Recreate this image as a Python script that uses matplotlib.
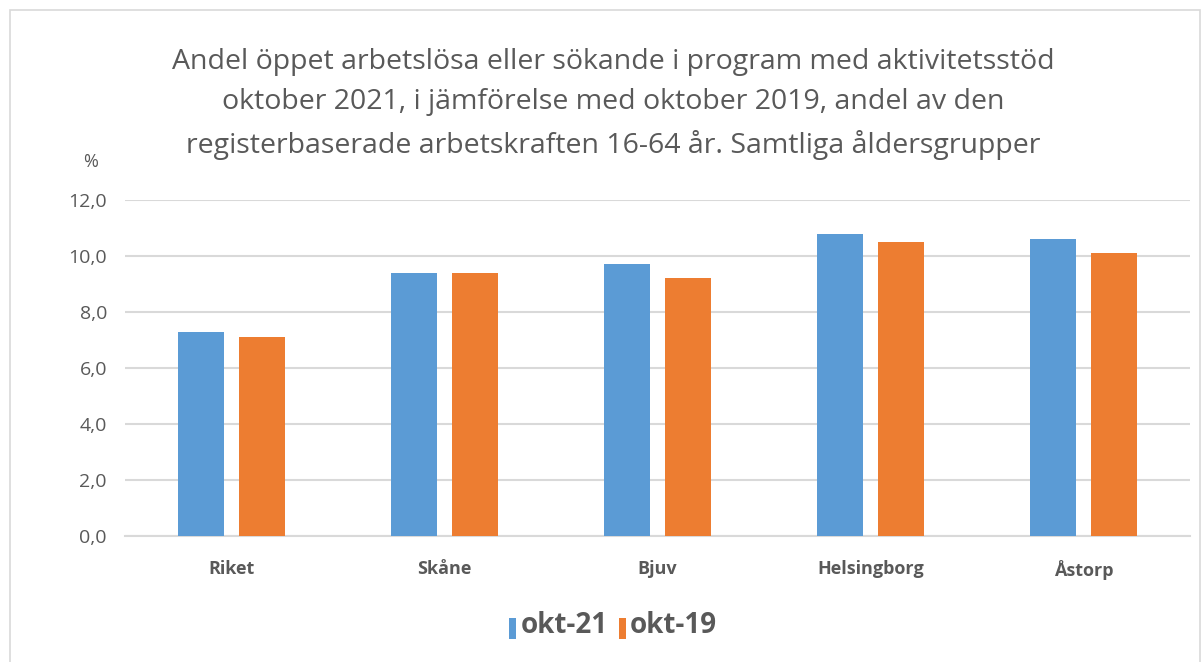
import matplotlib
matplotlib.use("Agg")
import matplotlib.pyplot as plt
from matplotlib.patches import Rectangle
import numpy as np

categories = ["Riket", "Skåne", "Bjuv", "Helsingborg", "Åstorp"]
okt21 = [7.3, 9.4, 9.7, 10.8, 10.6]
okt19 = [7.1, 9.4, 9.2, 10.5, 10.1]
series_names = ["okt-21", "okt-19"]
yticks = [0, 2, 4, 6, 8, 10, 12]
title = ("Andel öppet arbetslösa eller sökande i program med aktivitetsstöd\n"
         "oktober 2021, i jämförelse med oktober 2019, andel av den\n"
         "registerbaserade arbetskraften 16-64 år. Samtliga åldersgrupper")

plt.rcParams['font.family'] = ['Open Sans', 'DejaVu Sans']
gray = "#595959"

fig = plt.figure(figsize=(12.02, 6.62), dpi=100)
ax = fig.add_axes([0.104, 0.19, 0.886, 0.508])

x = np.arange(len(categories))
w = 0.22
off = 0.143
ax.bar(x - off, okt21, w, color="#5B9BD5", label=series_names[0], zorder=3)
ax.bar(x + off, okt19, w, color="#ED7D31", label=series_names[1], zorder=3)

ax.set_xlim(-0.5, len(categories) - 0.5)
ax.set_ylim(0, 12)
ax.set_yticks(yticks)
ax.set_yticklabels([f"{v:.1f}".replace(".", ",") for v in yticks], color=gray, fontsize=14)
ax.set_xticks(x)
ax.set_xticklabels(categories, color=gray, fontsize=13, fontweight="bold")
ax.tick_params(axis="both", length=0)
ax.tick_params(axis="x", pad=17)
ax.tick_params(axis="y", pad=13)
ax.grid(axis="y", color="#d9d9d9", linewidth=1.5, zorder=0)
for s in ["top", "right", "left"]:
    ax.spines[s].set_visible(False)
ax.spines["bottom"].set_color("#d9d9d9")
ax.spines["bottom"].set_linewidth(1.5)

fig.text(0.51, 0.928, title, ha="center", va="top", fontsize=20.5, color=gray, linespacing=1.6)
fig.text(0.075, 0.755, "%", ha="center", va="center", fontsize=13, color=gray)

leg = fig.legend(loc="center", bbox_to_anchor=(0.51, 0.055), ncol=2, frameon=False,
                 handlelength=0.5, handleheight=2.0, handletextpad=0.3, columnspacing=0.8)
for t in leg.get_texts():
    t.set_color(gray)
    t.set_fontsize(20)
    t.set_fontweight("bold")

fig.patches.append(Rectangle((0.008, -0.01), 0.99, 0.995, transform=fig.transFigure,
                             fill=False, edgecolor="#d9d9d9", linewidth=1.2))

fig.savefig("out.png", dpi=100)
